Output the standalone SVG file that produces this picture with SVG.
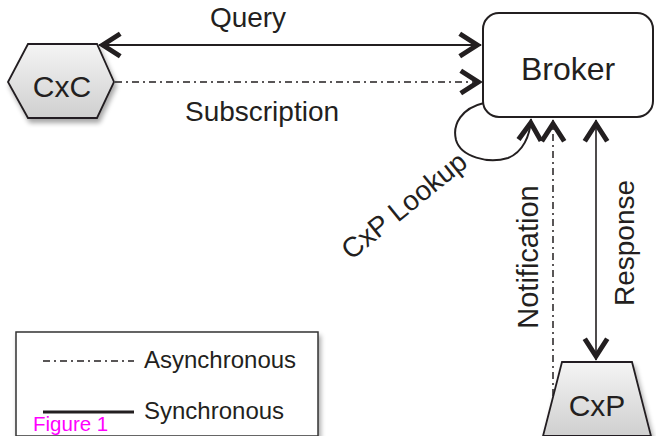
<svg xmlns="http://www.w3.org/2000/svg" width="656" height="436" viewBox="0 0 656 436">
<style>
text{font-family:"Liberation Sans",Arial,sans-serif;fill:#231f20}
.lbl{font-size:28px}
.line{fill:none;stroke:#231f20;stroke-width:2}
.dd{fill:none;stroke:#231f20;stroke-width:1.5;stroke-dasharray:7 4 2 4}
.shape{fill:url(#g);stroke:#231f20;stroke-width:1.8}
</style>
<defs>
<linearGradient id="g" x1="0" y1="0" x2="0" y2="1">
<stop offset="0" stop-color="#f4f4f4"/>
<stop offset="1" stop-color="#cfcfcf"/>
</linearGradient>
<filter id="sh" x="-20%" y="-20%" width="150%" height="150%">
<feGaussianBlur in="SourceAlpha" stdDeviation="2.5"/>
<feOffset dx="2" dy="4" result="b"/>
<feComponentTransfer><feFuncA type="linear" slope="0.35"/></feComponentTransfer>
<feMerge><feMergeNode/><feMergeNode in="SourceGraphic"/></feMerge>
</filter>
<marker id="ah" markerUnits="userSpaceOnUse" markerWidth="30" markerHeight="30" viewBox="-20 -12 24 24" refX="0" refY="0" orient="auto-start-reverse">
<path d="M -17,-9 L -3,0 L -17,9" fill="none" stroke="#231f20" stroke-width="4"/>
</marker>
</defs>

<g id="connectors">
<line class="line" x1="99" y1="45" x2="481" y2="45" marker-start="url(#ah)" marker-end="url(#ah)"/>
<line class="dd" x1="115" y1="82" x2="482" y2="82" marker-end="url(#ah)"/>
<path class="line" d="M 484,103 C 462,108 452,124 456,140 C 461,157 488,164 508,158 C 523,152 530,136 531,119" marker-end="url(#ah)"/>
<line class="dd" x1="553" y1="396" x2="553" y2="120" marker-end="url(#ah)"/>
<line class="line" style="stroke-width:1.6" x1="596" y1="120" x2="596" y2="360" marker-start="url(#ah)" marker-end="url(#ah)"/>
<text class="lbl" x="248" y="27" text-anchor="middle">Query</text>
<text class="lbl" x="262" y="121" text-anchor="middle">Subscription</text>
<text class="lbl" transform="translate(410,213) rotate(-39)" text-anchor="middle">CxP Lookup</text>
<text class="lbl" transform="translate(538,257) rotate(-90)" text-anchor="middle" style="font-size:29px">Notification</text>
<text class="lbl" transform="translate(634,243) rotate(-90)" text-anchor="middle">Response</text>
</g>

<g id="cxc">
<polygon class="shape" filter="url(#sh)" points="8,82 28,44 97,44 114,82 97,118 28,118"/>
<text x="62" y="97" text-anchor="middle" style="font-size:30px">CxC</text>
</g>

<g id="broker">
<rect x="483" y="13" width="170" height="104" rx="16" fill="#fff" stroke="#231f20" stroke-width="2"/>
<text x="568" y="80" text-anchor="middle" style="font-size:32px">Broker</text>
</g>

<g id="cxp">
<polygon class="shape" filter="url(#sh)" points="562,362 632,362 651,436 543,436"/>
<text x="597" y="416" text-anchor="middle" style="font-size:30px">CxP</text>
</g>

<g id="legend">
<rect x="16" y="332" width="302" height="104" fill="#fff" stroke="#333" stroke-width="1.5" filter="url(#sh)"/>
<line class="dd" x1="43" y1="361" x2="134" y2="361"/>
<text x="144" y="368" style="font-size:24px">Asynchronous</text>
<line x1="43" y1="412" x2="134" y2="412" stroke="#231f20" stroke-width="3"/>
<text x="144" y="419" style="font-size:24px">Synchronous</text>
</g>

<text x="33" y="431" style="font-size:20.5px;fill:#ff00ff">Figure 1</text>
</svg>
